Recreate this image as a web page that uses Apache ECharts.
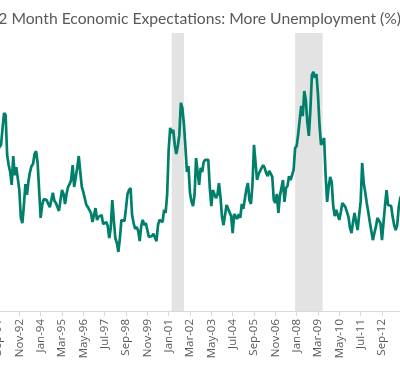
<!DOCTYPE html>
<html>
<head>
<meta charset="utf-8">
<script src="https://cdn.jsdelivr.net/npm/echarts@6/dist/echarts.min.js"></script>
<style>
html,body{margin:0;padding:0;width:400px;height:386px;overflow:hidden;background:#fff;}
#chart{position:absolute;left:-50px;top:0;width:500px;height:386px;}
</style>
</head>
<body>
<div id="chart"></div>
<script>
// Monthly series starting Sep-1991
const startYear = 1991;
const startMonthIndex = 8; // September
const monthNames = ['Jan','Feb','Mar','Apr','May','Jun','Jul','Aug','Sep','Oct','Nov','Dec'];

const moreUnemployment = [
  46.3, 47.2, 47.8, 52.7, 57.0, 56.4, 44.9, 42.0, 40.0, 36.3,
  44.6, 39.1, 41.4, 41.4, 34.8, 26.8, 25.3, 30.5, 36.5, 33.4,
  37.4, 40.0, 41.7, 42.3, 45.2, 46.0, 42.6, 34.8, 26.8, 30.5,
  32.2, 32.2, 31.9, 30.8, 29.9, 31.9, 34.0, 31.7, 31.1, 29.9,
  28.8, 31.9, 34.8, 33.7, 30.8, 33.7, 35.7, 36.5, 37.7, 42.0,
  35.7, 35.7, 41.2, 44.6, 40.0, 35.7, 34.2, 34.2, 30.5, 29.9,
  29.4, 28.2, 25.6, 25.3, 29.6, 26.2, 27.1, 27.6, 27.6, 25.0,
  25.3, 25.6, 24.5, 21.0, 23.9, 31.9, 26.2, 21.0, 19.6, 17.0,
  21.0, 26.2, 25.9, 25.9, 29.6, 33.7, 34.8, 35.4, 27.6, 25.3,
  23.6, 24.2, 23.0, 20.1, 24.5, 26.2, 24.7, 25.3, 25.6, 21.3,
  21.3, 21.6, 22.2, 21.9, 20.1, 24.7, 26.2, 25.9, 25.6, 29.1,
  28.2, 33.4, 46.3, 52.7, 51.2, 52.1, 47.8, 45.2, 47.5, 50.6,
  59.9, 58.4, 53.8, 47.2, 40.0, 41.7, 34.0, 31.4, 30.2, 33.4,
  44.0, 40.0, 36.3, 41.2, 40.0, 42.9, 43.5, 44.0, 43.5, 35.4,
  30.2, 34.8, 34.8, 32.5, 33.4, 36.8, 32.8, 27.1, 24.7, 27.6,
  30.5, 29.4, 29.6, 27.3, 22.4, 27.9, 27.6, 26.5, 27.9, 26.8,
  30.8, 29.4, 29.6, 35.1, 36.8, 31.9, 30.8, 36.3, 47.8, 47.8,
  37.7, 39.4, 39.1, 41.2, 42.0, 41.2, 39.7, 38.8, 40.3, 40.6,
  38.6, 31.9, 31.1, 33.7, 28.2, 33.1, 33.1, 37.7, 31.4, 35.4,
  36.0, 38.8, 37.7, 39.1, 40.6, 46.9, 47.5, 50.9, 55.0, 59.0,
  56.1, 63.3, 60.7, 54.4, 50.4, 57.8, 67.9, 68.8, 67.1, 68.2,
  62.2, 53.5, 47.8, 48.6, 49.8, 39.1, 31.4, 35.7, 38.6, 37.1,
  30.2, 27.3, 29.1, 27.6, 26.2, 28.5, 31.1, 31.1, 29.9, 29.6,
  27.1, 23.9, 22.4, 25.6, 28.2, 25.6, 23.3, 27.6, 31.4, 42.6,
  36.8, 34.2, 31.1, 28.5, 25.6, 25.3, 20.4, 22.4, 24.2, 26.8,
  26.5, 25.3, 20.4, 20.4, 30.5, 34.8, 30.5, 30.5, 30.2, 27.1,
  24.7, 23.3, 24.7, 29.9, 32.5, 33.4
];

const recessions = [['Mar-01', 'Nov-01'], ['Dec-07', 'Jun-09']];
const titleText = '12 Month Economic Expectations: More Unemployment (%)';

const categories = [];
for (let i = 0; i < moreUnemployment.length; i++) {
  const mi = startMonthIndex + i;
  const y = startYear + Math.floor(mi / 12);
  categories.push(monthNames[mi % 12] + '-' + String(y % 100).padStart(2, '0'));
}

// fit title font so the full title is ~412px wide
const titleFont = 'Lato';
const mctx = document.createElement('canvas').getContext('2d');
mctx.font = '16px ' + titleFont;
const titleSize = Math.min(18, 16 * 412 / mctx.measureText(titleText).width);

const chart = echarts.init(document.getElementById('chart'), null, {renderer: 'canvas'});
chart.setOption({
  animation: false,
  backgroundColor: '#ffffff',
  title: {
    text: titleText,
    right: 49,
    top: 11,
    padding: 0,
    textStyle: {fontFamily: titleFont, fontSize: titleSize, fontWeight: 'normal', color: '#595959'}
  },
  grid: {left: 48, right: 48.2, top: 33, bottom: 75},
  xAxis: {
    type: 'category',
    data: categories,
    boundaryGap: false,
    axisLine: {show: true, lineStyle: {color: '#d9d9d9', width: 1}},
    axisTick: {show: true, interval: 13, length: 5, lineStyle: {color: '#d9d9d9'}},
    axisLabel: {interval: 13, rotate: 90, margin: 8, fontFamily: 'Open Sans', fontSize: 11.5, color: '#595959'},
    splitLine: {show: false}
  },
  yAxis: {
    type: 'value', min: 0, max: 80, show: false,
    splitLine: {show: false}
  },
  series: [
    {
      type: 'line', data: [], z: 1, silent: true,
      markArea: {
        silent: true,
        itemStyle: {color: '#e3e3e3'},
        data: recessions.map(r => [{xAxis: r[0]}, {xAxis: r[1]}])
      }
    },
    {
      type: 'line', data: moreUnemployment, z: 5,
      symbol: 'none', smooth: false,
      lineStyle: {color: '#00806A', width: 2.7},
      itemStyle: {color: '#00806A'}
    }
  ]
});
</script>
</body>
</html>
